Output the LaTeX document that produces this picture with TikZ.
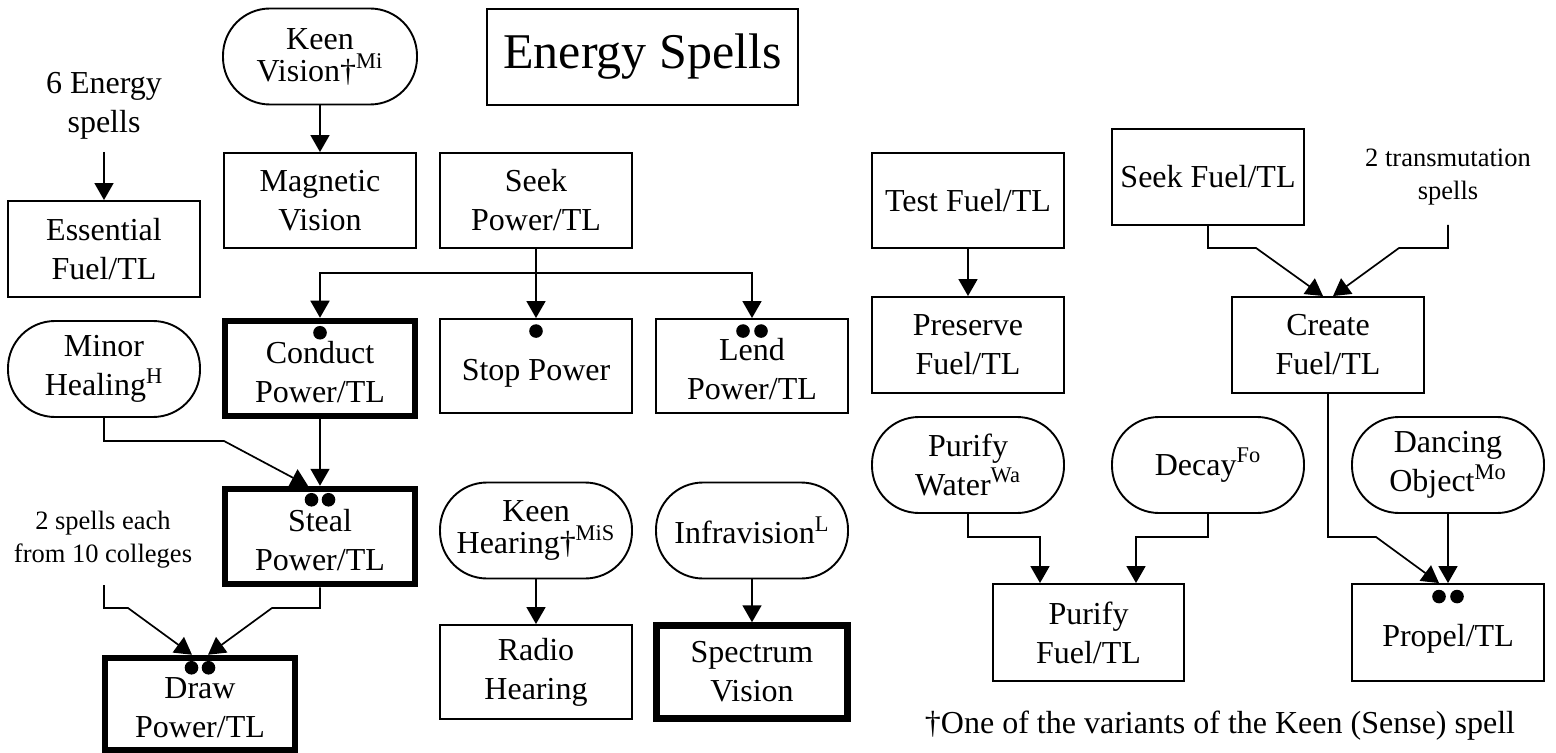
\documentclass[tikz,border=0pt]{standalone}
\usepackage{fontspec}
\setmainfont{Liberation Serif}
\usetikzlibrary{arrows.meta}
\newcommand\fsn{\fontsize{16}{19.5}\selectfont}
\newcommand\fss{\fontsize{13.25}{16.5}\selectfont}
\newcommand\low[1]{\raisebox{-3.25pt}[\height][\depth]{\begin{tabular}{@{}c@{}}#1\end{tabular}}}
\begin{document}
\begin{tikzpicture}[x=0.5pt,y=-0.5pt,
  base/.style={draw, line width=0.95pt, minimum width=96pt, minimum height=47.5pt, align=center, inner sep=1pt, font=\fsn},
  box/.style={base},
  heavy/.style={base, line width=3.25pt, minimum width=95pt},
  spell/.style={base, rounded corners=23.5pt, minimum height=48pt},
  txt/.style={align=center, font=\fsn, inner sep=0pt},
  small/.style={align=center, font=\fss, inner sep=0pt},
  arr/.style={-{Triangle[length=8.5pt,width=9.5pt]}, line width=0.85pt},
  dot/.style={fill=black}]
\useasboundingbox (0,0) rectangle (1556,753);

% ---------- left part ----------
\node[spell, minimum width=97pt] (kv) at (320,56.5) {Keen\\[-3.5pt]Vision†\textsuperscript{Mi}};
\node[box, minimum width=155.5pt, minimum height=48pt, font=\fontsize{25}{30}\selectfont] (title) at (642.5,57) {Energy Spells};
\node[txt] (t6) at (104,106) {6 Energy\\spells};
\coordinate (t6e) at (104,152);
\node[box, minimum height=48pt] (ess) at (104,249) {Essential\\Fuel/TL};
\node[box] (mv) at (320,200.5) {Magnetic\\Vision};
\node[box] (sp) at (536,200.5) {Seek\\Power/TL};

\node[heavy] (cond) at (320,368.5) {\low{Conduct\\Power/TL}};
\node[box, minimum height=47pt] (stop) at (536,366) {\low{Stop Power}};
\node[box, minimum height=47pt] (lend) at (752,366) {\low{Lend\\Power/TL}};
\node[spell] (mh) at (104,369) {Minor\\Healing\textsuperscript{H}};

\node[heavy] (steal) at (320,536.5) {\low{Steal\\Power/TL}};
\node[small] (t2) at (103,540) {2 spells each\\from 10 colleges};
\coordinate (t2e) at (104,585);
\node[heavy, minimum height=46pt] (drw) at (200,704) {\low{Draw\\Power/TL}};

\node[spell] (kh) at (536,530.5) {Keen\\[-3.5pt]Hearing†\textsuperscript{MiS}};
\node[spell] (inf) at (752,530.5) {Infravision\textsuperscript{L}};
\node[box, minimum height=47pt] (rh) at (536,672) {Radio\\Hearing};
\node[heavy, minimum width=95.5pt, minimum height=46.5pt] (spv) at (752,672) {Spectrum\\Vision};

% dots
\fill[dot] ([yshift=-7.5pt]cond.north) circle (3.4pt);
\fill[dot] ([yshift=-7pt,xshift=-4.25pt]steal.north) circle (3.4pt);
\fill[dot] ([yshift=-7pt,xshift=4.25pt]steal.north) circle (3.4pt);
\fill[dot] ([yshift=-6.5pt,xshift=-4.25pt]drw.north) circle (3.4pt);
\fill[dot] ([yshift=-6.5pt,xshift=4.25pt]drw.north) circle (3.4pt);
\fill[dot] ([yshift=-6.5pt]stop.north) circle (3.4pt);
\fill[dot] ([yshift=-6.5pt,xshift=-4.5pt]lend.north) circle (3.4pt);
\fill[dot] ([yshift=-6.5pt,xshift=4.5pt]lend.north) circle (3.4pt);

% connectors
\draw[arr] (kv.south) -- (mv.north);
\draw[arr] (t6e) -- (ess.north);
\coordinate (bus) at (536,273);
\draw[arr] (sp.south) -- (stop.north);
\draw[arr] (bus) -| (cond.north);
\draw[arr] (bus) -| (lend.north);
\draw[arr] (mh.south) |- (224,441) -- ([xshift=-6pt]steal.north);
\draw[arr] (cond.south) -- (steal.north);
\draw[arr] (t2e) |- (128,608) -- ([xshift=-4pt]drw.north);
\draw[arr] (steal.south) |- (272,608) -- ([xshift=4pt]drw.north);
\draw[arr] (kh.south) -- (rh.north);
\draw[arr] (inf.south) -- (spv.north);

% ---------- right part ----------
\node[box] (tf) at (968,200.5) {Test Fuel/TL};
\node[box, minimum height=48pt] (pf) at (968,345) {Preserve\\Fuel/TL};
\node[box, minimum height=48pt] (sf) at (1208,177) {Seek Fuel/TL};
\node[small] (tt) at (1448,177) {2 transmutation\\spells};
\coordinate (tte) at (1448,225);
\node[box, minimum height=48pt] (cf) at (1328,345) {Create\\Fuel/TL};
\node[spell] (pw) at (968,465) {Purify\\Water\textsuperscript{Wa}};
\node[spell] (dec) at (1208,465) {Decay\textsuperscript{Fo}};
\node[spell] (dob) at (1448,465) {Dancing\\Object\textsuperscript{Mo}};
\node[box, minimum width=95.5pt, minimum height=48.5pt] (pfu) at (1088.5,632.5) {Purify\\Fuel/TL};
\node[box, minimum height=48.5pt] (prop) at (1448,632.5) {\low{Propel/TL}};
\node[txt, anchor=base] (foot) at (1220,733) {†One of the variants of the Keen (Sense) spell};

\fill[dot] ([yshift=-6.75pt,xshift=-4.5pt]prop.north) circle (3.4pt);
\fill[dot] ([yshift=-6.75pt,xshift=4.5pt]prop.north) circle (3.4pt);

\draw[arr] (tf.south) -- (pf.north);
\draw[arr] (sf.south) |- (1256,248) -- ([xshift=-2.5pt]cf.north);
\draw[arr] (tte) |- (1399,248) -- ([xshift=2.5pt]cf.north);
\draw[arr] (cf.south) |- (1376,537) -- ([xshift=-4.5pt]prop.north);
\draw[arr] (dob.south) -- (prop.north);
\draw[arr] (pw.south) |- (1040,537) -- ([xshift=-24.25pt]pfu.north);
\draw[arr] (dec.south) |- (1136,537) -- ([xshift=23.75pt]pfu.north);
\end{tikzpicture}
\end{document}
